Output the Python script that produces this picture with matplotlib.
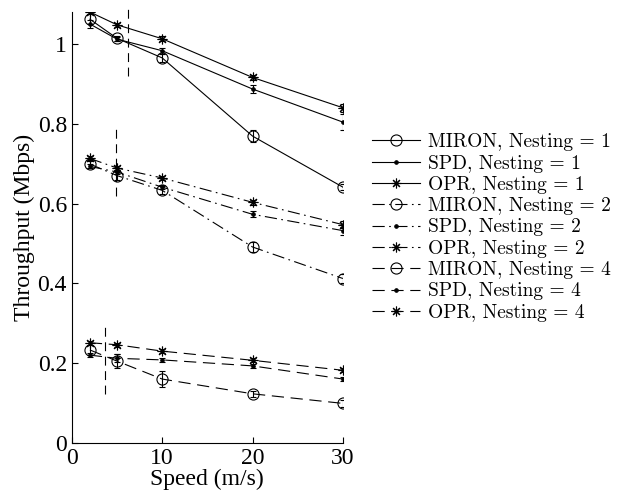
import matplotlib
matplotlib.use("Agg")
import matplotlib.pyplot as plt
from matplotlib.lines import Line2D

# ----------------------------------------------------------------------------

speed = [2, 5, 10, 20, 30]

# Nesting = 1
miron_1 = [1.062, 1.014, 0.965, 0.769, 0.641]
spd_1 = [1.050, 1.012, 0.983, 0.887, 0.804]
opr_1 = [1.080, 1.048, 1.013, 0.916, 0.840]
miron_1_err = [0.012, 0.006, 0.010, 0.015, 0.008]
spd_1_err = [0.010, 0.005, 0.008, 0.010, 0.020]
opr_1_err = [0.006, 0.005, 0.006, 0.006, 0.010]

# Nesting = 2
miron_2 = [0.699, 0.670, 0.633, 0.491, 0.412]
spd_2 = [0.693, 0.679, 0.641, 0.573, 0.532]
opr_2 = [0.713, 0.689, 0.664, 0.603, 0.547]
miron_2_err = [0.010, 0.010, 0.010, 0.012, 0.012]
spd_2_err = [0.005, 0.005, 0.005, 0.008, 0.010]
opr_2_err = [0.006, 0.005, 0.005, 0.006, 0.008]

# Nesting = 4
miron_4 = [0.233, 0.205, 0.160, 0.123, 0.099]
spd_4 = [0.220, 0.212, 0.208, 0.193, 0.160]
opr_4 = [0.251, 0.246, 0.230, 0.207, 0.182]
miron_4_err = [0.012, 0.018, 0.020, 0.008, 0.008]
spd_4_err = [0.005, 0.010, 0.005, 0.005, 0.005]
opr_4_err = [0.005, 0.005, 0.005, 0.005, 0.005]

# vertical marker lines (x, y_low, y_high)
vlines = [(6.2, 0.92, 1.10), (4.85, 0.62, 0.80), (3.65, 0.122, 0.30)]

x_ticks = [0, 10, 20, 30]
y_ticks = [0, 0.2, 0.4, 0.6, 0.8, 1.0]
y_tick_labels = ["0", "0.2", "0.4", "0.6", "0.8", "1"]

# ----------------------------------------------------------------------------

plt.rcParams["font.family"] = ["Liberation Serif", "DejaVu Serif"]

fig = plt.figure(figsize=(6.19, 5.01), dpi=100)
ax = fig.add_axes([0.116, 0.116, 0.438, 0.86])

lw = 0.8
star = (8, 2, 0)
dash_of = {1: None, 2: (11, 4, 1.5, 4), 4: (11, 6)}
size_of = {"o": 8, ".": 5}

series = [
    ("MIRON", 1, miron_1, miron_1_err, "o"),
    ("SPD", 1, spd_1, spd_1_err, "."),
    ("OPR", 1, opr_1, opr_1_err, star),
    ("MIRON", 2, miron_2, miron_2_err, "o"),
    ("SPD", 2, spd_2, spd_2_err, "."),
    ("OPR", 2, opr_2, opr_2_err, star),
    ("MIRON", 4, miron_4, miron_4_err, "o"),
    ("SPD", 4, spd_4, spd_4_err, "."),
    ("OPR", 4, opr_4, opr_4_err, star),
]

handles = []
for name, nest, vals, err, mk in series:
    ms = size_of.get(mk, 7) if isinstance(mk, str) else 7
    fc = "black" if mk == "." else "none"
    eb = ax.errorbar(speed, vals, yerr=err, color="black", lw=lw,
                     marker=mk, markersize=ms, markerfacecolor=fc,
                     markeredgecolor="black", markeredgewidth=0.8,
                     elinewidth=0.8, capsize=2.5)
    h = Line2D([], [], color="black", lw=lw, marker=mk, markersize=ms,
               markerfacecolor=fc, markeredgecolor="black", markeredgewidth=0.8,
               label=f"{name}, Nesting = {nest}")
    if dash_of[nest] is not None:
        eb[0].set_dashes(dash_of[nest])
        h.set_dashes(dash_of[nest])
    handles.append(h)

for x, y0, y1 in vlines:
    ax.plot([x, x], [y0, y1], color="black", lw=0.8, dashes=(8, 5),
            clip_on=False)

ax.set_xlim(0, 30)
ax.set_ylim(0, 1.08)
ax.set_xticks(x_ticks)
ax.set_yticks(y_ticks, y_tick_labels)
ax.tick_params(direction="in", labelsize=17, length=4, width=0.8)
ax.spines["top"].set_visible(False)
ax.spines["right"].set_visible(False)
ax.set_xlabel("Speed (m/s)", fontsize=17, labelpad=0)
ax.set_ylabel("Throughput (Mbps)", fontsize=17, labelpad=2)

ax.legend(handles=handles, loc="center left", bbox_to_anchor=(1.0, 0.5),
          frameon=False, prop={"family": "cmr10", "size": 14},
          handlelength=2.47, handletextpad=0.41,
          labelspacing=0.17, borderaxespad=1.1)

fig.savefig("out.png", dpi=100)
